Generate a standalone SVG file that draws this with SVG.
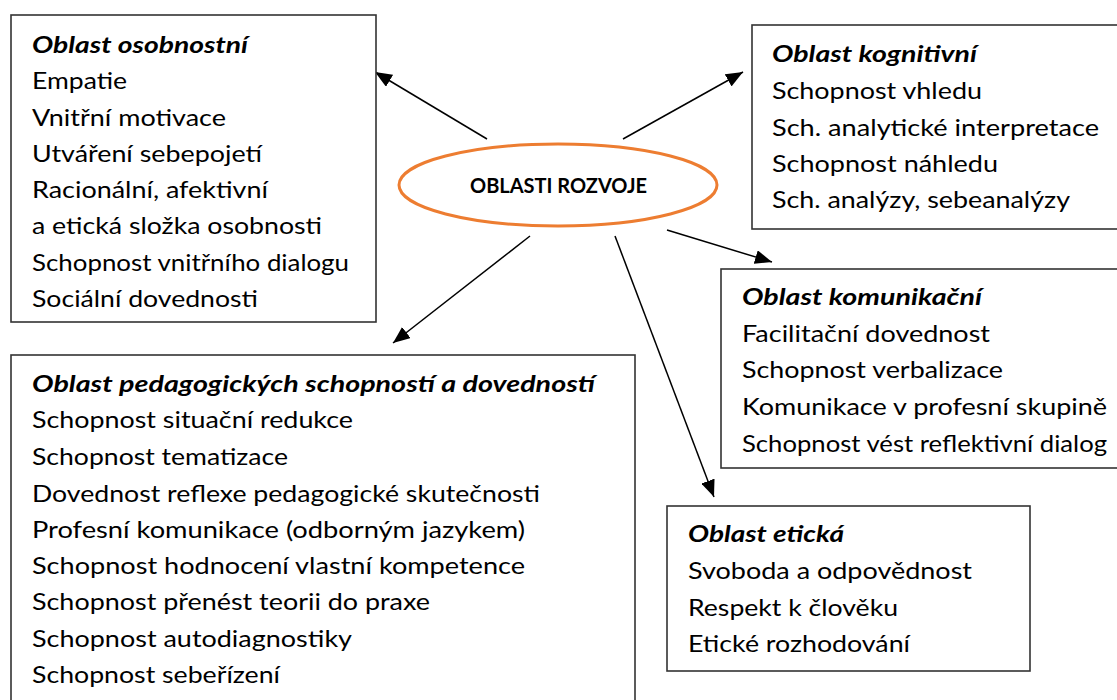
<svg xmlns="http://www.w3.org/2000/svg" width="1117" height="700" viewBox="0 0 1117 700">
<style>
.box{fill:#fff;stroke:#333;stroke-width:1.6}
.t{font-family:Lato,"Open Sans","Liberation Sans",sans-serif;font-size:23px;fill:#000}
.h{font-weight:bold;font-style:italic}
.c{stroke:#000;stroke-width:1.5;fill:none;marker-end:url(#ah)}
</style>
<defs>
<marker id="ah" markerUnits="userSpaceOnUse" markerWidth="18" markerHeight="14" refX="17" refY="7" orient="auto">
<path d="M0,0 L17,7 L0,14 z" fill="#000"/>
</marker>
</defs>
<rect width="1117" height="700" fill="#fff"/>
<g id="connectors">
<path class="c" d="M487,139 L375,72"/>
<path class="c" d="M623,139 L743,72"/>
<path class="c" d="M667,230 L772,262"/>
<path class="c" d="M615,236 L714,497"/>
<path class="c" d="M530,236 L393,343"/>
</g>
<g id="center">
<ellipse cx="558" cy="185" rx="159" ry="41" fill="#fff" stroke="#ED7D31" stroke-width="3"/>
<text x="558.5" y="193" text-anchor="middle" font-family="Lato,'Open Sans','Liberation Sans',sans-serif" font-size="20.5" font-weight="bold" textLength="177" lengthAdjust="spacingAndGlyphs">OBLASTI ROZVOJE</text>
</g>
<g id="osobnostni">
<rect class="box" x="11" y="15" width="365" height="307"/>
<text class="t h" x="32" y="53" textLength="216" lengthAdjust="spacingAndGlyphs">Oblast osobnostní</text>
<text class="t" x="32" y="89" textLength="95" lengthAdjust="spacingAndGlyphs">Empatie</text>
<text class="t" x="32" y="126" textLength="194" lengthAdjust="spacingAndGlyphs">Vnitřní motivace</text>
<text class="t" x="32" y="162" textLength="230" lengthAdjust="spacingAndGlyphs">Utváření sebepojetí</text>
<text class="t" x="32" y="198" textLength="236" lengthAdjust="spacingAndGlyphs">Racionální, afektivní</text>
<text class="t" x="32" y="234" textLength="290" lengthAdjust="spacingAndGlyphs">a etická složka osobnosti</text>
<text class="t" x="32" y="271" textLength="317" lengthAdjust="spacingAndGlyphs">Schopnost vnitřního dialogu</text>
<text class="t" x="32" y="307" textLength="226" lengthAdjust="spacingAndGlyphs">Sociální dovednosti</text>
</g>
<g id="kognitivni">
<rect class="box" x="752" y="25" width="370" height="204"/>
<text class="t h" x="772" y="62" textLength="205" lengthAdjust="spacingAndGlyphs">Oblast kognitivní</text>
<text class="t" x="772" y="99" textLength="210" lengthAdjust="spacingAndGlyphs">Schopnost vhledu</text>
<text class="t" x="772" y="136" textLength="327" lengthAdjust="spacingAndGlyphs">Sch. analytické interpretace</text>
<text class="t" x="772" y="172" textLength="226" lengthAdjust="spacingAndGlyphs">Schopnost náhledu</text>
<text class="t" x="772" y="208" textLength="298" lengthAdjust="spacingAndGlyphs">Sch. analýzy, sebeanalýzy</text>
</g>
<g id="komunikacni">
<rect class="box" x="721" y="269" width="400" height="199"/>
<text class="t h" x="742" y="305" textLength="240" lengthAdjust="spacingAndGlyphs">Oblast komunikační</text>
<text class="t" x="742" y="342" textLength="248" lengthAdjust="spacingAndGlyphs">Facilitační dovednost</text>
<text class="t" x="742" y="378" textLength="261" lengthAdjust="spacingAndGlyphs">Schopnost verbalizace</text>
<text class="t" x="742" y="415" textLength="365" lengthAdjust="spacingAndGlyphs">Komunikace v profesní skupině</text>
<text class="t" x="742" y="452" textLength="365" lengthAdjust="spacingAndGlyphs">Schopnost vést reflektivní dialog</text>
</g>
<g id="eticka">
<rect class="box" x="667" y="506" width="363" height="165"/>
<text class="t h" x="688" y="542" textLength="156" lengthAdjust="spacingAndGlyphs">Oblast etická</text>
<text class="t" x="688" y="579" textLength="284" lengthAdjust="spacingAndGlyphs">Svoboda a odpovědnost</text>
<text class="t" x="688" y="616" textLength="210" lengthAdjust="spacingAndGlyphs">Respekt k člověku</text>
<text class="t" x="688" y="652" textLength="222" lengthAdjust="spacingAndGlyphs">Etické rozhodování</text>
</g>
<g id="pedagogicke">
<rect class="box" x="11" y="355" width="624" height="360"/>
<text class="t h" x="32" y="392" textLength="563" lengthAdjust="spacingAndGlyphs">Oblast pedagogických schopností a dovedností</text>
<text class="t" x="32" y="428" textLength="321" lengthAdjust="spacingAndGlyphs">Schopnost situační redukce</text>
<text class="t" x="32" y="465" textLength="256" lengthAdjust="spacingAndGlyphs">Schopnost tematizace</text>
<text class="t" x="32" y="502" textLength="508" lengthAdjust="spacingAndGlyphs">Dovednost reflexe pedagogické skutečnosti</text>
<text class="t" x="32" y="538" textLength="493" lengthAdjust="spacingAndGlyphs">Profesní komunikace (odborným jazykem)</text>
<text class="t" x="32" y="574" textLength="493" lengthAdjust="spacingAndGlyphs">Schopnost hodnocení vlastní kompetence</text>
<text class="t" x="32" y="610" textLength="398" lengthAdjust="spacingAndGlyphs">Schopnost přenést teorii do praxe</text>
<text class="t" x="32" y="647" textLength="320" lengthAdjust="spacingAndGlyphs">Schopnost autodiagnostiky</text>
<text class="t" x="32" y="683" textLength="248" lengthAdjust="spacingAndGlyphs">Schopnost sebeřízení</text>
</g>
</svg>
